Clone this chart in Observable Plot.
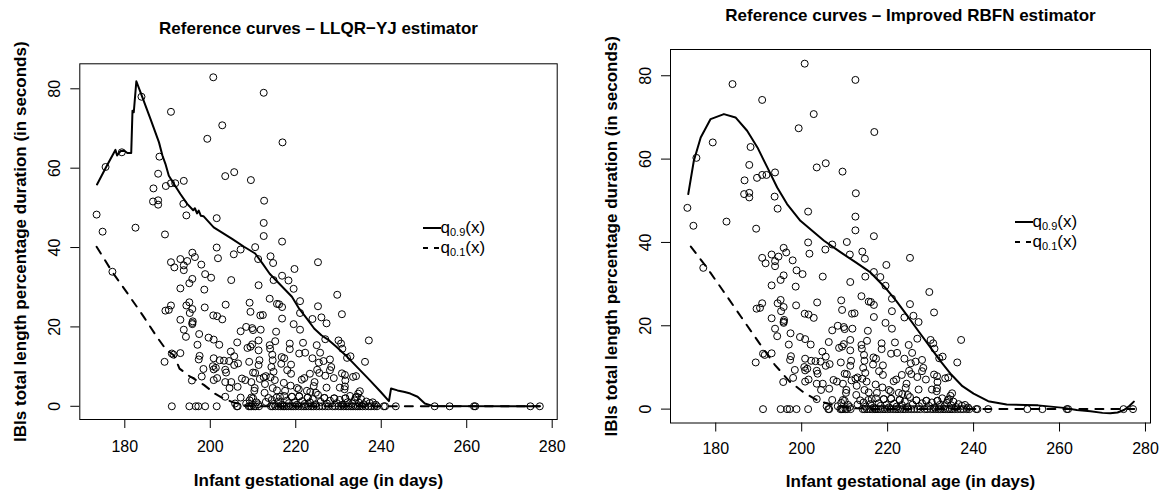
<!DOCTYPE html>
<html>
<head>
<meta charset="utf-8">
<script src="https://cdn.jsdelivr.net/npm/d3@7"></script>
<script src="https://cdn.jsdelivr.net/npm/@observablehq/plot@0.6"></script>
<style>
  html, body { margin: 0; padding: 0; background: #fff; }
  #wrap { position: relative; width: 1160px; height: 490px; background: #fff; font-family: "Liberation Sans", Arial, Helvetica, sans-serif; overflow: hidden; }
  .panel { position: absolute; top: 0; width: 580px; height: 490px; }
  .leg { position: absolute; display: flex; align-items: center; height: 18px; font-size: 17px; color: #000; white-space: nowrap; }
  .leg svg { display: block; }
  .leg sub { font-size: 11px; vertical-align: -3px; line-height: 0; }
</style>
</head>
<body>
<div id="wrap">
  <div class="panel" id="left" style="left:0px"></div>
  <div class="panel" id="right" style="left:580px"></div>
</div>
<script>
// ---------------- data ----------------
const xTicks = [180, 200, 220, 240, 260, 280];
const yTicks = [0, 20, 40, 60, 80];

const ageDays = [
  200.7,212.5,183.9,190.8,202.8,216.9,199.3,179.3,175.5,188.1,187.8,203.5,205.6,209.5,193.8,190.8,191.8,189.6,186.7,186.6,
  187.8,187.8,193.7,212.6,194.4,201.5,173.4,174.8,182.5,189.4,212.5,212.5,216.8,210.5,201.5,207.1,205.5,195.8,196.4,201.8,
  211.2,214.1,193.0,194.6,193.8,190.8,191.6,193.8,214.7,197.9,225.2,219.7,198.8,200.2,195.8,195.1,204.9,216.8,214.8,218.3,
  211.3,198.6,193.0,219.5,229.7,213.9,209.2,195.1,203.6,215.6,216.1,216.8,221.0,225.2,190.8,190.3,189.5,194.4,195.8,198.7,
  209.4,230.8,195.2,212.3,211.7,200.7,201.6,221.0,226.0,223.9,216.8,202.8,193.0,227.2,195.9,195.8,195.8,219.5,208.4,209.8,
  210.0,211.8,193.8,221.0,215.4,207.1,197.4,199.6,194.3,200.8,218.6,226.9,230.0,230.6,237.1,211.3,206.3,215.2,221.7,209.8,
  209.4,213.9,197.0,202.1,224.9,208.7,214.0,230.9,211.3,218.6,204.8,191.0,191.4,193.0,222.2,220.8,225.7,214.5,232.8,232.0,
  197.5,197.3,200.8,205.6,216.7,217.3,223.9,228.0,226.5,236.2,202.2,203.2,189.3,204.4,209.1,211.5,214.6,206.5,205.6,225.4,
  216.6,218.9,211.3,228.3,228.0,200.6,200.8,201.3,198.4,203.5,203.7,214.3,214.8,218.0,225.0,225.5,230.8,223.3,218.9,210.0,
  210.5,213.0,212.5,231.5,233.4,234.1,226.9,198.0,201.6,200.8,207.4,208.2,195.7,209.6,211.6,214.1,215.1,221.4,222.0,228.9,
  231.6,203.5,204.9,212.8,217.2,224.4,224.2,218.8,204.5,210.4,210.3,214.6,220.3,220.7,227.2,230.3,231.5,206.4,212.7,215.6,
  217.5,222.6,223.4,224.7,231.4,235.0,234.6,203.5,207.1,209.6,213.6,216.3,219.1,220.8,222.8,226.7,229.0,231.6,234.0,177.1,
  205.8,208.4,209.2,210.0,210.8,211.2,213.0,214.4,214.9,215.5,216.0,216.8,217.3,217.9,218.4,219.1,219.7,220.3,220.8,221.5,
  222.1,222.8,223.3,224.0,224.6,225.2,225.8,226.7,227.3,228.0,229.0,229.6,230.3,230.9,231.6,232.1,232.7,233.2,233.8,234.3,
  234.8,235.3,235.9,236.5,237.3,238.0,238.7,
  191.0,195.1,196.6,197.2,198.8,201.5,206.2,206.4,209.0,209.3,209.6,210.2,210.6,211.4,214.2,214.6,215.2,215.9,216.5,217.0,
  217.3,217.8,218.3,218.9,219.4,220.0,220.6,221.3,221.9,222.4,223.0,223.6,224.1,224.8,225.5,226.2,226.9,227.6,228.6,229.2,
  230.0,230.6,231.2,231.8,232.3,232.9,233.4,234.0,234.5,235.0,235.6,236.3,237.0,237.6,238.4,239.0,240.6,240.9,243.4,252.5,
  256.0,261.7,262.0,274.9,277.1
];
const ibiDuration = [
  82.9,79.0,78.0,74.2,70.8,66.5,67.4,64.0,60.3,62.9,58.6,58.0,59.0,57.0,56.8,56.2,56.2,55.5,54.9,51.6,
  51.9,50.8,51.0,51.8,48.1,47.4,48.3,44.0,45.0,43.3,46.2,42.9,41.5,40.1,40.0,39.5,38.3,38.7,37.6,37.3,
  37.1,37.8,37.1,36.6,35.5,36.3,35.0,34.3,36.1,35.7,36.3,34.6,33.3,32.4,32.1,31.0,31.8,32.9,31.8,31.7,
  30.5,29.4,29.7,29.6,28.1,27.1,26.1,26.2,25.6,25.8,25.7,25.0,26.5,25.2,25.4,24.3,24.1,25.4,24.5,24.9,
  23.8,23.2,23.5,23.0,22.9,22.9,22.7,23.5,22.4,22.0,22.1,21.9,21.8,20.9,21.4,21.0,20.7,20.7,20.0,19.7,
  19.2,19.3,19.3,19.3,18.8,18.9,18.2,17.3,17.5,16.8,15.8,16.9,16.6,15.8,16.6,16.6,16.1,16.4,16.0,15.6,
  15.0,15.4,15.5,15.5,15.4,14.7,14.5,14.5,14.1,14.4,13.8,13.3,13.0,13.4,13.5,13.3,13.5,13.0,12.6,12.2,
  12.7,11.8,12.1,12.6,12.4,12.1,12.1,11.8,11.4,11.2,11.6,11.5,11.2,11.4,11.2,11.6,11.6,10.8,10.4,11.0,
  10.7,10.5,10.4,9.9,9.1,10.1,9.3,9.7,9.4,9.2,8.5,9.9,8.7,9.1,9.2,8.4,8.3,8.2,8.2,8.5,
  8.4,7.6,7.3,7.9,7.4,7.6,7.7,7.5,7.1,6.6,7.0,6.6,6.5,6.1,6.9,7.3,6.6,6.7,7.1,7.1,
  6.5,6.1,6.1,5.6,5.9,6.1,5.1,5.2,4.6,4.6,3.9,4.6,4.6,4.3,4.7,4.7,5.0,4.9,3.4,4.0,
  3.9,3.9,3.6,3.4,4.3,3.8,3.2,2.4,2.2,2.2,2.1,2.4,2.4,2.5,2.2,2.1,2.0,2.0,2.2,33.9,
  0.7,0.7,1.5,2.0,1.0,0.5,1.1,1.6,0.6,2.2,1.2,0.4,2.6,1.4,0.8,2.4,1.0,0.4,2.5,1.3,
  0.6,2.2,1.0,1.8,0.5,2.9,1.1,2.1,0.7,1.4,2.0,0.8,1.6,0.4,2.0,1.0,2.6,0.7,1.5,2.4,
  0.9,1.8,0.5,1.2,0.8,1.0,0.4,
  0,0,0,0,0,0,0,0,0,0,0,0,0,0,0,0,0,0,0,0,
  0,0,0,0,0,0,0,0,0,0,0,0,0,0,0,0,0,0,0,0,
  0,0,0,0,0,0,0,0,0,0,0,0,0,0,0,0,0,0,0,0,
  0,0,0,0,0
];

// LLQR-YJ estimator curves
const llqrQ90Age = [173.5,175.7,177.8,178.2,179.0,179.9,180.6,181.5,181.8,182.1,182.7,184.1,186.0,188.0,188.8,189.5,190.3,191.5,193.0,194.6,
  196.0,196.4,196.9,197.3,197.8,198.4,200.8,205.1,207.9,210.5,212.2,213.9,216.5,219.1,220.8,222.6,224.3,226.0,227.8,229.5,
  232.1,234.7,237.3,239.9,241.8,242.3,243.8,245.5,246.8,248.5,250.2,252.0,277.1];
const llqrQ90 = [55.9,60.4,64.6,63.2,64.3,64.4,63.8,63.8,74.5,74.1,81.9,77.9,72.4,66.5,63.2,61.1,58.1,56.0,53.5,51.0,
  49.4,49.9,48.6,49.3,48.0,47.9,45.1,42.2,40.2,38.5,36.0,33.4,30.5,27.6,24.6,22.1,19.6,17.9,16.6,15.0,
  12.4,9.5,6.6,3.6,1.3,4.5,4.0,3.6,3.2,2.4,0.7,0.1,0];
const llqrQ10Age = [173.4,177.1,180.6,184.4,187.5,189.5,191.5,192.8,195.0,198.5,201.2,202.7,205.3,207.9,210.0,277.1];
const llqrQ10 = [40.2,33.8,28.5,22.6,17.5,14.5,12.8,9.5,7.7,5.4,3.1,2.2,1.0,0.3,0,0];

// Improved RBFN estimator curves
const rbfnQ90Age = [173.6,174.9,176.5,178.8,181.9,184.6,187.3,189.7,192.0,194.3,196.6,199.7,205.2,209.1,212.6,216.0,219.4,222.0,224.6,227.1,
  229.7,232.3,234.8,237.4,240.0,243.4,247.7,252.0,255.0,258.0,261.0,264.0,267.2,270.0,271.8,273.5,275.0,276.3,277.3];
const rbfnQ90 = [51.6,59.6,65.2,69.6,70.8,70.0,66.8,62.8,58.0,53.2,49.2,45.2,40.4,37.6,35.2,32.8,29.2,26.0,22.4,18.8,
  15.2,11.5,8.3,5.5,3.7,1.9,1.1,1.0,0.9,0.6,0.3,-0.2,-0.5,-0.9,-1.0,-0.8,-0.2,0.8,1.8];
const rbfnQ10Age = [174.2,177.9,181.7,186.0,190.3,193.7,197.1,200.6,204.0,208.3,212.6,217.7,277.4];
const rbfnQ10 = [39.0,34.0,28.4,22.0,15.6,10.7,6.7,3.9,1.9,0.7,0.2,0,0];

const titles = ["Reference curves \u2013 LLQR\u2212YJ estimator", "Reference curves \u2013 Improved RBFN estimator"];
const xLabel = "Infant gestational age (in days)";
const yLabel = "IBIs total length percentage duration (in seconds)";
const legendLabels = ["0.9", "0.1"];

// ---------------- build ----------------
const points = ageDays.map((d, i) => ({age: d, dur: ibiDuration[i]}));
const toRows = (xs, ys) => xs.map((d, i) => ({age: d, q: ys[i]}));

const FONT = '"Liberation Sans", Arial, Helvetica, sans-serif';

function panel(cfg) {
  const mid = {textAnchor: "middle", lineAnchor: "middle"};
  return Plot.plot({
    width: 580,
    height: 490,
    marginLeft: cfg.ml, marginRight: cfg.mr, marginTop: cfg.mt, marginBottom: cfg.mb,
    x: {domain: [169.47, 281.17]},
    y: {domain: [-3.33, 86.3]},
    style: {fontFamily: FONT, background: "transparent", overflow: "visible", color: "#000"},
    marks: [
      Plot.frame({stroke: "#000", strokeWidth: 1}),
      Plot.axisX({ticks: xTicks, tickSize: 9, tickFormat: () => "", label: null, strokeWidth: 1}),
      Plot.text(xTicks, {x: d => d, frameAnchor: "bottom", dy: cfg.xtdy, text: d => String(d), fontSize: 16, ...mid}),
      Plot.axisY({ticks: yTicks, tickSize: 9, tickFormat: () => "", label: null, strokeWidth: 1}),
      Plot.text(yTicks, {y: d => d, frameAnchor: "left", dx: -25, rotate: -90, text: d => String(d), fontSize: 16, ...mid}),
      Plot.dot(points, {x: "age", y: "dur", r: 3.5, stroke: "#000", strokeWidth: 1, fill: "none"}),
      Plot.line(cfg.q90, {x: "age", y: "q", stroke: "#000", strokeWidth: 2}),
      Plot.line(cfg.q10, {x: "age", y: "q", stroke: "#000", strokeWidth: 2, strokeDasharray: "8,8"}),
      Plot.text([cfg.title], {frameAnchor: "top", dy: cfg.tdy, text: d => d, fontWeight: "bold", fontSize: 17, ...mid}),
      Plot.text([xLabel], {frameAnchor: "bottom", dy: cfg.xldy, text: d => d, fontWeight: "bold", fontSize: 17, ...mid}),
      Plot.text([yLabel], {frameAnchor: "left", dx: cfg.yldx, rotate: -90, text: d => d, fontWeight: "bold", fontSize: 17, ...mid})
    ]
  });
}

document.getElementById("left").appendChild(panel({
  ml: 79.3, mr: 23.3, mt: 63.3, mb: 71,
  xtdy: 27.5, xldy: 61, tdy: -35, yldx: -59,
  title: titles[0],
  q90: toRows(llqrQ90Age, llqrQ90),
  q10: toRows(llqrQ10Age, llqrQ10)
}));
document.getElementById("right").appendChild(panel({
  ml: 90, mr: 10, mt: 49, mb: 67.5,
  xtdy: 26, xldy: 59, tdy: -34, yldx: -58.7,
  title: titles[1],
  q90: toRows(rbfnQ90Age, rbfnQ90),
  q10: toRows(rbfnQ10Age, rbfnQ10)
}));

// legends
function legend(left, top) {
  const wrap = document.getElementById("wrap");
  legendLabels.forEach((lab, i) => {
    const div = document.createElement("div");
    div.className = "leg";
    div.style.left = left + "px";
    div.style.top = (top + i * 20) + "px";
    const dash = i === 0 ? "" : 'stroke-dasharray="5,6"';
    div.innerHTML = `<svg width="18" height="18"><line x1="0" x2="18" y1="9" y2="9" stroke="#000" stroke-width="2" ${dash}/></svg><span>q<sub>${lab}</sub>(x)</span>`;
    wrap.appendChild(div);
  });
}
legend(422.5, 219.3);
legend(1014.5, 212.7);
</script>
</body>
</html>
